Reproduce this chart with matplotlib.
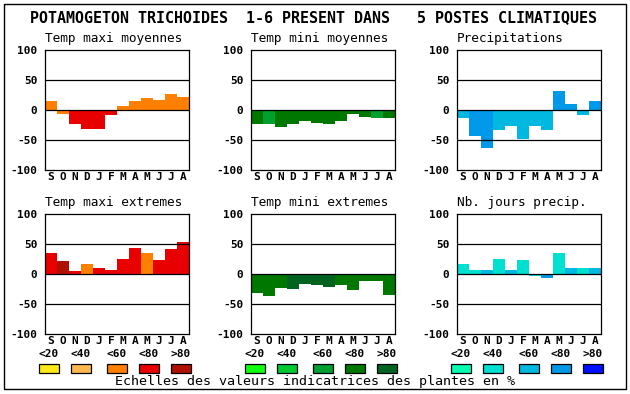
import matplotlib
matplotlib.use('Agg')
import matplotlib.pyplot as plt
from matplotlib.patches import Rectangle

plt.rcParams['font.family'] = 'DejaVu Sans Mono'

months = ['S', 'O', 'N', 'D', 'J', 'F', 'M', 'A', 'M', 'J', 'J', 'A']
classes = ['<20', '<40', '<60', '<80', '>80']

warm = ['#ffe818', '#ffb850', '#ff8000', '#e80000', '#b01000']
green = ['#10ff10', '#00c830', '#00a030', '#007800', '#006420']
blue = ['#00ffb0', '#00e0d0', '#00b8e0', '#0098e8', '#0010ff']

titles = ['Temp maxi moyennes', 'Temp mini moyennes', 'Precipitations',
          'Temp maxi extremes', 'Temp mini extremes', 'Nb. jours precip.']

# valeurs (%) et classe de couleur (0..4) par mois
tmax_moy = [15, -6, -23, -32, -32, -8, 7, 15, 20, 17, 27, 22]
tmax_moy_cls = [2, 2, 3, 3, 3, 3, 2, 2, 2, 2, 2, 2]
tmin_moy = [-23, -23, -28, -24, -18, -21, -24, -18, -6, -11, -13, -14]
tmin_moy_cls = [3, 2, 3, 3, 3, 3, 3, 3, 3, 3, 2, 3]
precip = [-13, -44, -63, -34, -26, -48, -26, -34, 32, 10, -8, 15]
precip_cls = [2, 3, 3, 2, 2, 2, 2, 2, 3, 3, 2, 3]
tmax_ext = [35, 22, 5, 17, 10, 7, 25, 43, 35, 23, 42, 53]
tmax_ext_cls = [3, 4, 3, 2, 3, 3, 3, 3, 2, 3, 3, 3]
tmin_ext = [-32, -37, -23, -25, -17, -18, -22, -18, -27, -12, -12, -35]
tmin_ext_cls = [3, 3, 3, 4, 4, 4, 4, 3, 3, 3, 3, 3]
jours = [17, 7, 7, 25, 7, 23, -3, -7, 35, 10, 10, 10]
jours_cls = [1, 1, 2, 1, 2, 1, 1, 3, 1, 2, 1, 2]

panels = [
    (tmax_moy, tmax_moy_cls, warm),
    (tmin_moy, tmin_moy_cls, green),
    (precip, precip_cls, blue),
    (tmax_ext, tmax_ext_cls, warm),
    (tmin_ext, tmin_ext_cls, green),
    (jours, jours_cls, blue),
]

W, H = 630, 394


def px(x, y, w, h):
    return [x / W, 1 - (y + h) / H, w / W, h / H]


fig = plt.figure(figsize=(6.3, 3.94), dpi=100)

# fond / textes en coordonnees pixel
bg = fig.add_axes([0, 0, 1, 1])
bg.set_xlim(0, W)
bg.set_ylim(H, 0)
bg.axis('off')
bg.add_patch(Rectangle((4, 4), 622, 385, fill=False, lw=1.0, ec='black'))
bg.text(314, 18, 'POTAMOGETON TRICHOIDES  1-6 PRESENT DANS   5 POSTES CLIMATIQUES',
        ha='center', va='center', fontsize=10.8, fontweight='bold')

col_x = [45, 251, 457]
row_y = [50, 214]

for i, (vals, cls, pal) in enumerate(panels):
    x0 = col_x[i % 3]
    y0 = row_y[i // 3]
    ax = fig.add_axes(px(x0, y0, 144, 120))
    ax.bar(range(12), vals, width=1.0, color=[pal[c] for c in cls], zorder=2)
    for yl in (50, 0, -50):
        ax.axhline(yl, color='black', lw=0.9, zorder=3)
    ax.set_xlim(-0.5, 11.5)
    ax.set_ylim(-100, 100)
    ax.set_yticks([-100, -50, 0, 50, 100])
    ax.set_yticklabels(['-100', '-50', '0', '50', '100'], fontweight='bold', fontsize=8)
    ax.set_xticks(range(12))
    ax.set_xticklabels(months, fontweight='bold', fontsize=8)
    ax.tick_params(length=0, axis='y', pad=5.5)
    ax.tick_params(length=0, axis='x', pad=1.5)
    for s in ax.spines.values():
        s.set_linewidth(0.9)
    bg.text(x0, y0 - 12, titles[i], ha='left', va='center', fontsize=9.2)

# legendes
box_x = [39, 71, 107, 139, 171]
for g, pal in enumerate([warm, green, blue]):
    off = g * 206
    for k in range(5):
        bx = box_x[k] + off
        bg.add_patch(Rectangle((bx, 364), 20, 9, fc=pal[k], ec='black', lw=0.9))
        bg.text(bx + 10, 354, classes[k], ha='center', va='center',
                fontsize=8, fontweight='bold')

bg.text(315, 382, 'Echelles des valeurs indicatrices des plantes en %',
        ha='center', va='center', fontsize=9.6)

fig.savefig('out.png', dpi=100)
